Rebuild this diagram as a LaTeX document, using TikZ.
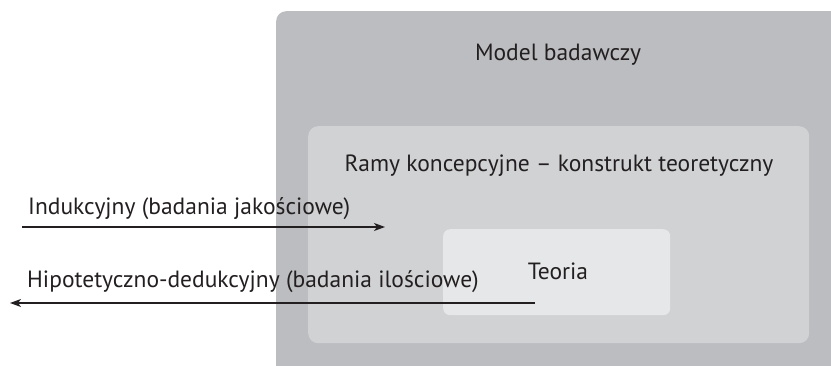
\documentclass[tikz,border=0pt]{standalone}
\usepackage{fontspec}
\setmainfont{PT Sans}
\definecolor{outergray}{HTML}{BCBDC0}
\definecolor{midgray}{HTML}{D1D2D4}
\definecolor{innergray}{HTML}{E6E7E8}
\definecolor{inkdark}{HTML}{231F20}
\usetikzlibrary{arrows.meta,positioning}

\begin{document}
\begin{tikzpicture}[
x=1pt, y=-1pt,
every node/.style={font=\fontsize{23.5}{28}\selectfont, text=inkdark},
panel/.style={rectangle, rounded corners=10pt, anchor=north west, inner sep=0pt},
flow/.style={draw=inkdark, line width=1.1pt, -{Stealth[length=11pt,width=8pt,inset=3pt]}}
]
\clip (0,0) rectangle (831,366);
% nested boxes
\node (model) [panel, fill=outergray, minimum width=580pt, minimum height=380pt] at (276,11) {};
\node (ramy) [panel, fill=midgray, minimum width=501pt, minimum height=217pt] at (308,126) {};
\node (teoria) [panel, fill=innergray, rounded corners=7pt, minimum width=227pt, minimum height=86pt] at (443,229) {};

\node (modeltxt) [anchor=base] at (558,61) {Model badawczy};
\node (ramytxt) [anchor=base] at (559,172) {Ramy koncepcyjne – konstrukt teoretyczny};
\node (teoriatxt) [anchor=base] at (558,280) {Teoria};

% approaches
\coordinate (indstart) at (22,227);
\coordinate (indend) at (385,227);
\coordinate (dedstart) at (535,303);
\coordinate (dedend) at (10,303);
\node (indtxt) [anchor=base west, inner sep=0pt] at (28,215) {Indukcyjny (badania jakościowe)};
\node (dedtxt) [anchor=base west, inner sep=0pt] at (27,288) {Hipotetyczno-dedukcyjny (badania ilościowe)};
\draw [flow] (indstart) -- (indend);
\draw [flow] (dedstart) -- (dedend);
\end{tikzpicture}
\end{document}
